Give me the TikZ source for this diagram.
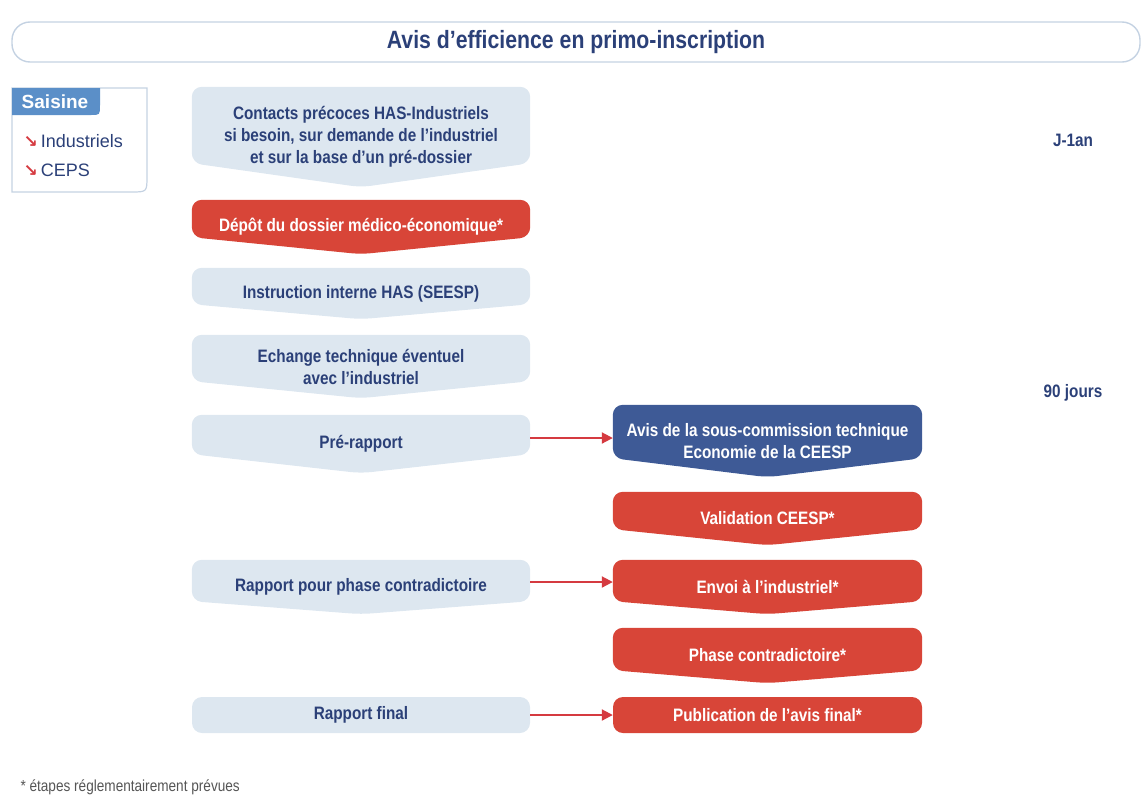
\documentclass[tikz,border=0pt]{standalone}
\usepackage{fontspec}
\setmainfont{Liberation Sans}[FakeStretch=0.85]
\newfontfamily\widefont{Liberation Sans}
\newfontfamily\symfont{DejaVu Sans}
\usetikzlibrary{arrows.meta,backgrounds}

\definecolor{hasnavy}{RGB}{43,64,120}
\definecolor{paleblue}{RGB}{221,231,240}
\definecolor{hasred}{RGB}{216,69,56}
\definecolor{deepblue}{RGB}{62,90,150}
\definecolor{headblue}{RGB}{91,143,200}
\definecolor{framegrey}{RGB}{196,210,226}
\definecolor{linkred}{RGB}{213,58,64}
\definecolor{notegrey}{RGB}{85,85,85}

\tikzset{
  boxtext/.style={inner sep=0pt, align=center, font=\bfseries\fontsize{18}{22}\selectfont},
  leftbox/.style={boxtext, minimum width=338pt, text=hasnavy},
  rightbox/.style={boxtext, minimum width=309pt, text=white},
  flatbox/.style={rounded corners=10pt, fill=#1},
  timing/.style={text=hasnavy, font=\bfseries\fontsize{18}{20}\selectfont},
  item/.style={anchor=west, text=hasnavy, font=\widefont\fontsize{18}{20}\selectfont},
  link/.style={draw=linkred, line width=2pt, -{Triangle[length=11pt,width=11pt]}},
}

% box with a pointed bottom: node, colour, depth of the point
\newcommand\chevron[3]{%
  \fill[#2, rounded corners=10pt] (#1.north west) -- (#1.north east)
    -- ([yshift=#3pt]#1.south east) -- (#1.south) -- ([yshift=#3pt]#1.south west) -- cycle;}
\newcommand\redarrow{{\color{linkred}\symfont\bfseries\fontsize{17}{18}\selectfont ↘}\,}

\begin{document}
\begin{tikzpicture}[x=1pt,y=-1pt]
\useasboundingbox (0,0) rectangle (1147,798);

% title
\node[draw=framegrey, line width=1.4pt, rounded corners=18pt, minimum width=1128pt, minimum height=40pt,
      text=hasnavy, font=\bfseries\fontsize{25}{28}\selectfont] (title) at (576,42) {Avis d'efficience en primo-inscription};

% saisine
\draw[framegrey, line width=1.2pt] (12,192) -- (12,88) -- (147,88) -- (147,176) .. controls (147,192) .. (131,192) -- cycle;
\fill[headblue] (12,88) -- (100,88) -- (100,105) .. controls (100,115) .. (91,115) -- (12,115) -- cycle;
\node[text=white, font=\widefont\bfseries\fontsize{19}{20}\selectfont] (saisine) at (55,102) {Saisine};
\node[item] (indus) at (20,141) {\redarrow Industriels};
\node[item] (ceps) at (20,170) {\redarrow CEPS};

% left column
\node[leftbox, minimum height=100pt] (contacts) at (361,137) {Contacts précoces HAS-Industriels\\si besoin, sur demande de l'industriel\\et sur la base d'un pré-dossier};
\node[leftbox, minimum height=54pt, text=white] (depot) at (361,227) {Dépôt du dossier médico-économique*};
\node[leftbox, minimum height=51pt] (instr) at (361,293.5) {Instruction interne HAS (SEESP)};
\node[leftbox, minimum height=63pt] (echange) at (361,366.5) {Echange technique éventuel\\avec l'industriel};
\node[leftbox, minimum height=58pt] (pre) at (361,444) {Pré-rapport};
\node[leftbox, minimum height=54pt] (rpc) at (361,587) {Rapport pour phase contradictoire};
\node[leftbox, minimum height=36pt, flatbox=paleblue] (rfinal) at (361,715) {Rapport final};

% right column
\node[rightbox, minimum height=72pt] (avis) at (767.5,441) {Avis de la sous-commission technique\\Economie de la CEESP};
\node[rightbox, minimum height=53pt] (valid) at (767.5,518.5) {Validation CEESP*};
\node[rightbox, minimum height=54pt] (envoi) at (767.5,587) {Envoi à l'industriel*};
\node[rightbox, minimum height=55pt] (phase) at (767.5,655.5) {Phase contradictoire*};
\node[rightbox, minimum height=36pt, flatbox=hasred] (pub) at (767.5,715) {Publication de l'avis final*};

\begin{scope}[on background layer]
  \chevron{contacts}{paleblue}{24}
  \chevron{depot}{hasred}{17}
  \chevron{instr}{paleblue}{15}
  \chevron{echange}{paleblue}{17}
  \chevron{pre}{paleblue}{19}
  \chevron{rpc}{paleblue}{13}
  \chevron{avis}{deepblue}{19}
  \chevron{valid}{hasred}{16}
  \chevron{envoi}{hasred}{13}
  \chevron{phase}{hasred}{13}
\end{scope}

% links
\draw[link] ([yshift=6pt]pre.east) -- ([yshift=6pt]pre.east -| avis.west);
\draw[link] ([yshift=5pt]rpc.east) -- ([yshift=5pt]rpc.east -| envoi.west);
\draw[link] (rfinal.east) -- (pub.west);

% timing
\node[timing] (year) at (1073,140) {J-1an};
\node[timing] (days) at (1073,393) {90 jours};

% note
\node[anchor=west, text=notegrey, font=\fontsize{16}{18}\selectfont] (note) at (17,787) {* étapes réglementairement prévues};
\end{tikzpicture}
\end{document}
